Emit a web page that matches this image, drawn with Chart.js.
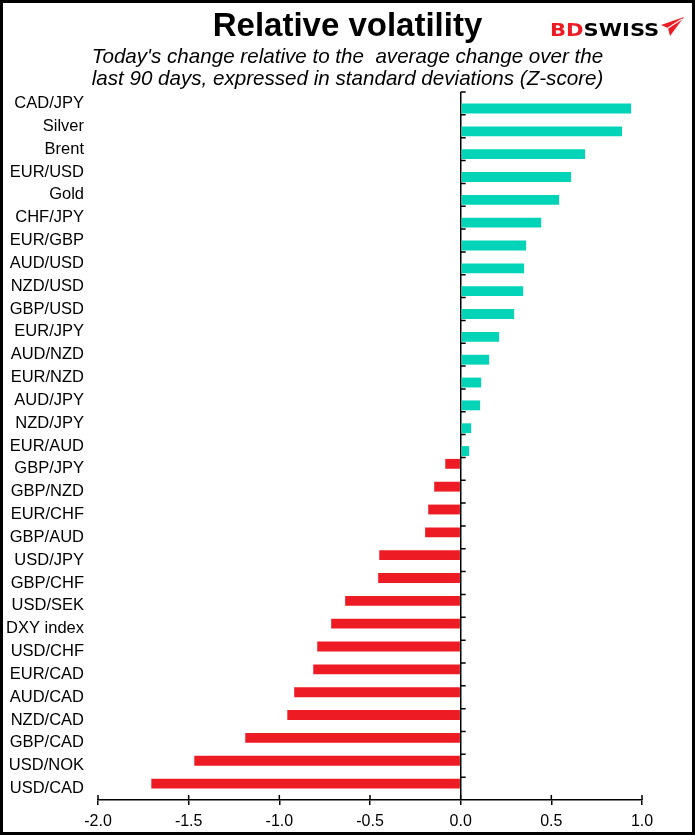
<!DOCTYPE html>
<html>
<head>
<meta charset="utf-8">
<script src="https://cdn.jsdelivr.net/npm/chart.js@4"></script>
<style>
  html, body { margin: 0; padding: 0; background: #fff; }
  .frame {
    width: 695px; height: 835px; box-sizing: border-box;
    border: 3px solid #000; background: #fff;
  }
  .frame canvas { display: block; }
</style>
</head>
<body>
<div class="frame">
  <canvas id="volChart" width="689" height="829"></canvas>
</div>
<script>
// Data (Z-scores)
const categories = [
  "CAD/JPY", "Silver", "Brent", "EUR/USD", "Gold", "CHF/JPY", "EUR/GBP",
  "AUD/USD", "NZD/USD", "GBP/USD", "EUR/JPY", "AUD/NZD", "EUR/NZD",
  "AUD/JPY", "NZD/JPY", "EUR/AUD", "GBP/JPY", "GBP/NZD", "EUR/CHF",
  "GBP/AUD", "USD/JPY", "GBP/CHF", "USD/SEK", "DXY index", "USD/CHF",
  "EUR/CAD", "AUD/CAD", "NZD/CAD", "GBP/CAD", "USD/NOK", "USD/CAD"
];
const zScores = [
  0.94, 0.89, 0.686, 0.609, 0.543, 0.444, 0.361,
  0.35, 0.345, 0.295, 0.212, 0.157, 0.113,
  0.107, 0.058, 0.047, -0.085, -0.146, -0.179,
  -0.196, -0.449, -0.455, -0.637, -0.714, -0.791,
  -0.813, -0.918, -0.956, -1.188, -1.469, -1.706
];
const xMin = -2.0;
const xMax = 1.0;
const xStep = 0.5;

const colorUp = "#03D4B7";
const colorDown = "#ED1C24";
const fontFamily = "'Liberation Sans', Arial, sans-serif";

// falling values go in the first (upper) slot, rising in the second
const downValues = zScores.map((v) => (v < 0 ? v : null));
const upValues = zScores.map((v) => (v >= 0 ? v : null));

// small tick marks on the zero line and the upper half of the x ticks
const axisTicks = {
  id: "axisTicks",
  afterDraw(chart) {
    const { ctx, scales: { x, y }, chartArea } = chart;
    const x0 = x.getPixelForValue(0);
    ctx.save();
    ctx.strokeStyle = "#000";
    ctx.lineWidth = 1.5;
    ctx.beginPath();
    for (let i = 0; i < categories.length; i++) {
      const py = y.getPixelForValue(i - 0.5);
      ctx.moveTo(x0, py);
      ctx.lineTo(x0 + 5, py);
    }
    x.ticks.forEach((t) => {
      const px = x.getPixelForValue(t.value);
      ctx.moveTo(px, chartArea.bottom);
      ctx.lineTo(px, chartArea.bottom - 5);
    });
    ctx.stroke();
    ctx.restore();
  },
};

// BDSWISS logo, top right
const logo = {
  id: "logo",
  afterDraw(chart) {
    const ctx = chart.ctx;
    ctx.save();
    ctx.translate(547, 33);
    ctx.scale(1.14, 1);
    ctx.font = "bold 18.5px 'DejaVu Sans', sans-serif";
    ctx.textBaseline = "alphabetic";
    ctx.fillStyle = colorDown;
    ctx.fillText("BD", 0, 0);
    const w = ctx.measureText("BD").width;
    ctx.fillStyle = "#000";
    ctx.fillText("SWISS", w, 0);
    ctx.restore();

    // little red paper plane
    ctx.save();
    ctx.fillStyle = colorDown;
    ctx.beginPath();
    ctx.moveTo(658, 22);
    ctx.lineTo(681, 14);
    ctx.lineTo(667, 33);
    ctx.lineTo(665, 25);
    ctx.closePath();
    ctx.fill();
    ctx.strokeStyle = "#fff";
    ctx.lineWidth = 1.2;
    ctx.beginPath();
    ctx.moveTo(665, 25);
    ctx.lineTo(679, 16);
    ctx.stroke();
    ctx.restore();
  },
};

const ctxVol = document.getElementById("volChart").getContext("2d");
new Chart(ctxVol, {
  type: "bar",
  data: {
    labels: categories,
    datasets: [
      {
        data: downValues,
        backgroundColor: colorDown,
        categoryPercentage: 0.88,
        barPercentage: 0.98,
      },
      {
        data: upValues,
        backgroundColor: colorUp,
        categoryPercentage: 0.88,
        barPercentage: 0.98,
      },
    ],
  },
  options: {
    indexAxis: "y",
    responsive: false,
    animation: false,
    layout: { padding: { left: 0, right: 0, top: 0, bottom: 0 } },
    plugins: {
      legend: { display: false },
      tooltip: { enabled: false },
      title: {
        display: true,
        text: "Relative volatility",
        color: "#000",
        font: { family: fontFamily, size: 33, weight: "bold", lineHeight: 1.2 },
        padding: { top: 4.5, bottom: 0 },
      },
      subtitle: {
        display: true,
        text: [
          "Today's change relative to the  average change over the",
          "last 90 days, expressed in standard deviations (Z-score)",
        ],
        color: "#000",
        font: { family: fontFamily, size: 20.6, style: "italic", lineHeight: 1.03 },
        padding: { top: 0, bottom: 2.5 },
      },
    },
    scales: {
      x: {
        min: xMin,
        max: xMax,
        afterFit: (scale) => {
          scale.height = 32;
        },
        ticks: {
          stepSize: xStep,
          color: "#000",
          padding: 6.5,
          font: { family: fontFamily, size: 16 },
          callback: (v) => Number(v).toFixed(1),
        },
        grid: {
          color: (c) => (c.tick && c.tick.value === 0 ? "#000" : "rgba(0,0,0,0)"),
          lineWidth: 1.5,
          tickColor: "#000",
          tickLength: 5,
        },
        border: { display: true, color: "#000", width: 1.5 },
      },
      y: {
        afterFit: (scale) => {
          scale.width = 95;
        },
        ticks: {
          color: "#000",
          padding: 14,
          autoSkip: false,
          font: { family: fontFamily, size: 16.5 },
        },
        grid: { display: false, drawTicks: false },
        border: { display: false },
      },
      // empty right-hand axis that only keeps space free on the right
      yGap: {
        axis: "y",
        type: "category",
        position: "right",
        afterFit: (scale) => {
          scale.width = 50;
        },
        ticks: { display: false },
        grid: { display: false, drawTicks: false },
        border: { display: false },
      },
    },
  },
  plugins: [axisTicks, logo],
});
</script>
</body>
</html>
